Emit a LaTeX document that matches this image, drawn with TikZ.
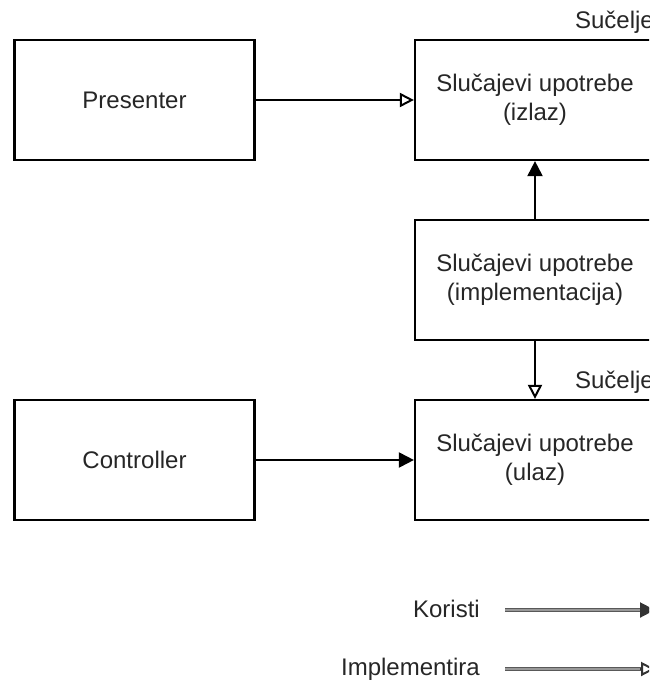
\documentclass[tikz,border=0pt]{standalone}
\usepackage{fontspec}
\setmainfont{Liberation Sans}
\usetikzlibrary{arrows.meta}
\begin{document}
\begin{tikzpicture}[x=1pt,y=-1pt,
  box/.style={draw=black, line width=2.2pt, minimum width=240pt, minimum height=120pt,
    inner sep=0pt, align=center, font=\fontsize{24}{28.8}\selectfont, text=black!85},
  lbl/.style={inner sep=0pt, font=\fontsize{24}{28.8}\selectfont, text=black!85},
  uses/.style={line width=2pt, -{Triangle[length=15pt,width=15pt]}},
  impl/.style={line width=2pt, -{Triangle[open,length=14pt,width=14pt]}},
  legline/.style={draw=black!65, double=black!40, double distance=1.8pt, line width=1.5pt},
]
\useasboundingbox (0,0) rectangle (649,680);
\clip (0,0) rectangle (649,680);
\node[box] (pres) at (134.5,100) {Presenter};
\node[box] (ctrl) at (134.5,460) {Controller};
\node[box] (izlaz) at (535,100) {Slučajevi upotrebe\\(izlaz)};
\node[box] (impln) at (535,280) {Slučajevi upotrebe\\(implementacija)};
\node[box] (ulaz) at (535,460) {Slučajevi upotrebe\\(ulaz)};
\node[lbl, anchor=base east] (s1) at (654,28) {Sučelje};
\node[lbl, anchor=base east] (s2) at (654,388) {Sučelje};
\draw[impl] (pres.east) -- (izlaz.west);
\draw[uses] (ctrl.east) -- (ulaz.west);
\draw[uses] (impln.north) -- (izlaz.south);
\draw[impl] (impln.south) -- (ulaz.north);
% legend
\node[lbl, anchor=east] (kor) at (480,609) {Koristi};
\node[lbl, anchor=east] (imp) at (480,669) {Implementira};
\coordinate (k1) at (505,610);
\coordinate (k2) at (655,610);
\coordinate (i1) at (505,669);
\coordinate (i2) at (655,669);
\draw[legline, shorten >=13pt] (k1) -- (k2);
\draw[line width=2pt, draw=black!80, -{Triangle[length=15pt,width=15pt]}] ([xshift=-15pt]k2) -- (k2);
\draw[legline, shorten >=13pt] (i1) -- (i2);
\draw[line width=2pt, draw=black!80, -{Triangle[open,length=14pt,width=14pt]}] ([xshift=-15pt]i2) -- (i2);
\end{tikzpicture}
\end{document}
